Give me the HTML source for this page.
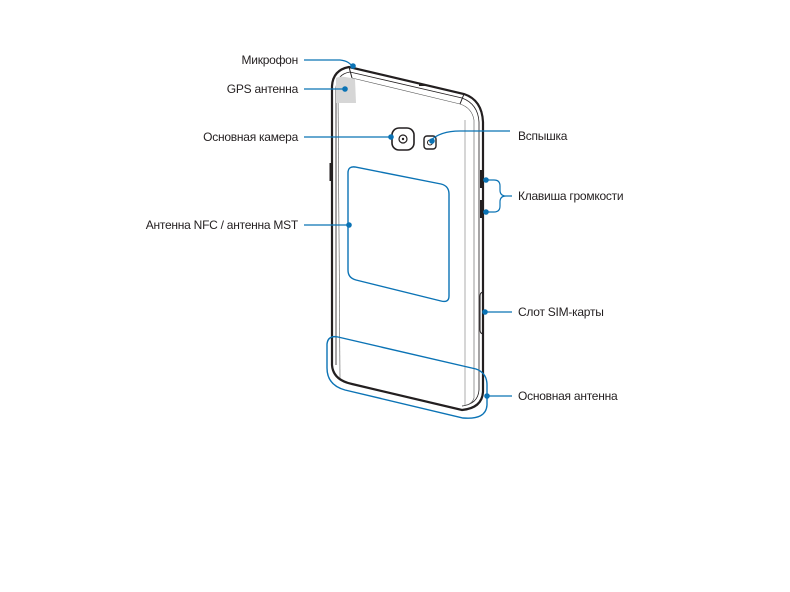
<!DOCTYPE html>
<html><head><meta charset="utf-8"><style>
html,body{margin:0;padding:0;background:#fff;}
svg{display:block;}
text{font-family:"Liberation Sans",sans-serif;font-size:12px;letter-spacing:-0.25px;fill:#231f20;}
</style></head><body>
<svg width="790" height="592" viewBox="0 0 790 592" xmlns="http://www.w3.org/2000/svg">
<path d="M332,365 L332,86 Q333,70 349,67 L464,94 Q482,100 483,122 L483,392 Q482,408 462,410 L352,384 Q333,380 332,365 Z" fill="none" stroke="#231f20" stroke-width="2.2"/>
<path d="M336,365 L336,88 Q337,74 350,72 L462,98 Q478,104 479,122 L479,390 Q478,404 462,406" fill="none" stroke="#231f20" stroke-width="0.8"/>
<path d="M338,90 L340,378" stroke="#555" stroke-width="0.6" fill="none"/>
<path d="M352,78 L460,104 Q472,108 474,120 L474,398 Q472,405 462,406" stroke="#555" stroke-width="0.6" fill="none"/>
<path d="M465,120 L465,405" stroke="#777" stroke-width="0.6" fill="none"/>
<path d="M349,67 L352,78 M464,94 L460,104" stroke="#231f20" stroke-width="1"/>
<rect x="419" y="84" width="6" height="2" fill="#231f20"/>
<path d="M336,78 Q340,75 355,79 L356,103 L336,103 Z" fill="#d6d6d6"/>
<rect x="329.5" y="163" width="3" height="18" fill="#231f20"/>
<rect x="480" y="170" width="4" height="18" fill="#231f20"/>
<rect x="480" y="200" width="4" height="18" fill="#231f20"/>
<path d="M484,292 Q480,292 480,296 L480,330 Q480,334 484,334" fill="none" stroke="#231f20" stroke-width="1"/>
<rect x="392" y="128" width="22" height="22" rx="7" fill="none" stroke="#231f20" stroke-width="1.6"/>
<circle cx="403" cy="139" r="4" fill="none" stroke="#231f20" stroke-width="1.2"/>
<circle cx="403" cy="139" r="1.2" fill="#231f20"/>
<rect x="424" y="136" width="12" height="13" rx="3" fill="none" stroke="#231f20" stroke-width="1.4"/>
<circle cx="430" cy="142.5" r="2.5" fill="none" stroke="#231f20" stroke-width="1"/>
<path d="M348,173 Q348,166 355,167 L441,184 Q449,186 449,194 L449,296 Q449,303 441,301 L356,280 Q348,278 348,270 Z" fill="none" stroke="#0b73b5" stroke-width="1.4"/>
<path d="M327,344 Q328,335 338,337 L476,369 Q487,373 487,385 L487,405 Q486,420 463,418 L345,390 Q327,385 327,368 Z" fill="none" stroke="#0b73b5" stroke-width="1.4"/>
<g stroke="#0b73b5" stroke-width="1.2" fill="none">
<path d="M304,60 L340,60 Q350,61 353,68"/>
<path d="M304,89 L345,89"/>
<path d="M304,137 L391,137"/>
<path d="M304,225 L349,225"/>
<path d="M430,141 Q440,131 460,131 L510,131"/>
<path d="M486,180 L494,180 Q500,180 500,186 L500,190 Q500,196 506,196 L512,196 M506,196 Q500,196 500,202 L500,206 Q500,212 494,212 L486,212"/>
<path d="M484,312 L512,312"/>
<path d="M487,396 L512,396"/>
</g>
<g fill="#0b73b5">
<circle cx="353" cy="66" r="2.8"/>
<circle cx="345" cy="89" r="2.8"/>
<circle cx="391" cy="137" r="2.8"/>
<circle cx="349" cy="225" r="2.8"/>
<circle cx="432" cy="141" r="2.8"/>
<circle cx="486" cy="180" r="2.8"/>
<circle cx="486" cy="212" r="2.8"/>
<circle cx="485" cy="312" r="2.8"/>
<circle cx="487" cy="396" r="2.8"/>
</g>
<g text-anchor="end">
<text x="298" y="64">Микрофон</text>
<text x="298" y="93">GPS антенна</text>
<text x="298" y="141">Основная камера</text>
<text x="298" y="229">Антенна NFC / антенна MST</text>
</g>
<text x="518" y="140">Вспышка</text>
<text x="518" y="200">Клавиша громкости</text>
<text x="518" y="316">Слот SIM-карты</text>
<text x="518" y="400">Основная антенна</text>
</svg>
</body></html>
